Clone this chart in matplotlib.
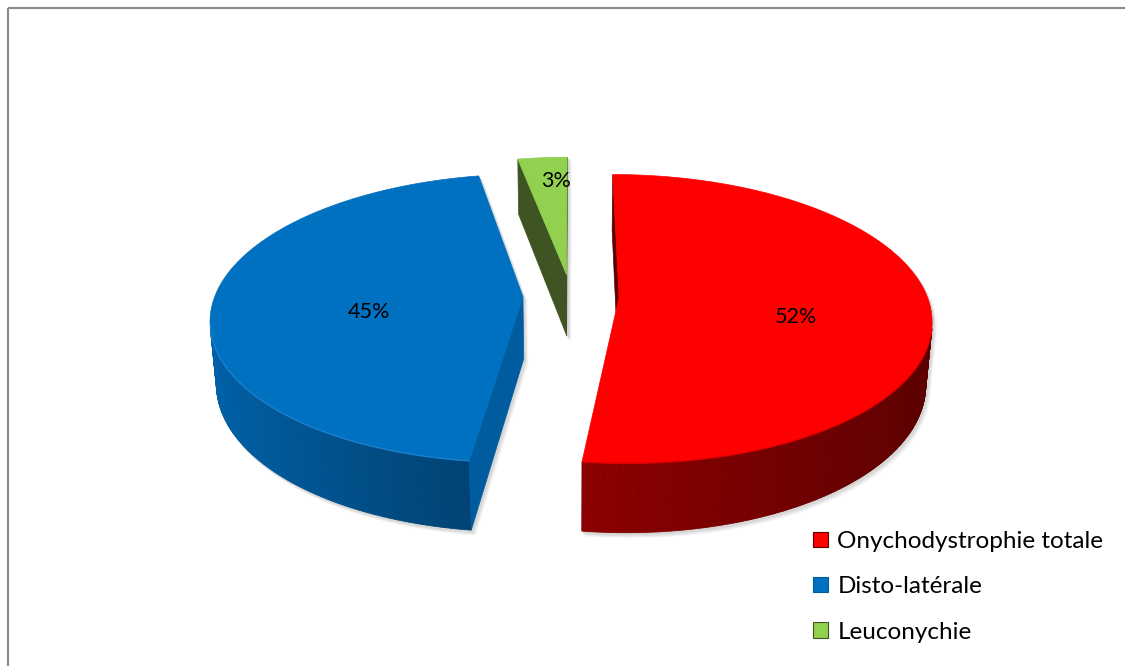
import numpy as np
import matplotlib
matplotlib.use("Agg")
import matplotlib.pyplot as plt
from matplotlib.collections import PolyCollection
from matplotlib.patches import Polygon, Rectangle, Patch

# data
labels = ["Onychodystrophie totale", "Disto-latérale", "Leuconychie"]
values = [52, 45, 3]

# colours: top face, outer wall (light/dark end of ramp), radial side face
top_colors = ["#FF0000", "#0070C0", "#92D050"]
wall_light = ["#B30000", "#0062AA", "#5E7F3A"]
wall_dark = ["#590000", "#001A2D", "#2E4419"]
side_colors = ["#5A0000", "#005C9F", "#3E5523"]
rim_colors = ["#D40000", "#2A8AD8", "#A8DC70"]
# label placement on the top face (radius, shift toward viewer, sideways)
label_r = [0.56, 0.49, 0.80]
label_dv = [-0.10, -0.09, -0.02]
label_du = [0.0, 0.0, 0.035]

## 3d pie geometry (pixels)
W, H = 1125, 666
x0, y0 = 571, 296        # screen position of pie centre
R = 308.0                # px per radius at centre depth
tilt = np.radians(27.2)
D = 5.96                 # camera distance (radius units)
h = 0.23                 # thickness
explode = 0.156
sa, ca = np.sin(tilt), np.cos(tilt)
F = R * D
cam = np.array([0.0, -D * ca, D * sa])


def proj(u, v, z):
    d = D + v * ca - z * sa
    return x0 + F * u / d, y0 - F * (v * sa + z * ca) / d


def hex2rgb(c):
    return np.array([int(c[i:i + 2], 16) for i in (1, 3, 5)]) / 255.0


plt.rcParams["font.family"] = ["Lato", "DejaVu Sans"]
fig = plt.figure(figsize=(W / 100, H / 100), dpi=100)
ax = fig.add_axes([0, 0, 1, 1])
ax.set_xlim(0, W)
ax.set_ylim(H, 0)
ax.axis("off")

fracs = np.array(values, dtype=float) / sum(values)
ends = np.cumsum(fracs) * 360
starts = ends - fracs * 360

slices = []
for i in range(len(values)):
    a, b = starts[i], ends[i]
    m = np.radians((a + b) / 2)
    ou, ov = explode * np.sin(m), explode * np.cos(m)
    n = max(int((b - a) * 2), 8)
    th = np.radians(np.linspace(a, b, n))
    tx, ty = proj(ou + np.sin(th), ov + np.cos(th), 0 * th)
    bx, by = proj(ou + np.sin(th), ov + np.cos(th), 0 * th - h)

    # outer wall, only the segments facing the camera
    quads, cols, rim = [], [], []
    lt, dk = hex2rgb(wall_light[i]), hex2rgb(wall_dark[i])
    for k in range(n - 1):
        t = (th[k] + th[k + 1]) / 2
        nrm = np.array([np.sin(t), np.cos(t), 0])
        p = np.array([ou + np.sin(t), ov + np.cos(t), -h / 2])
        if np.dot(cam - p, nrm) <= 0:
            continue
        quads.append([(tx[k], ty[k]), (tx[k + 1], ty[k + 1]),
                      (bx[k + 1], by[k + 1]), (bx[k], by[k])])
        rim.append([(tx[k], ty[k]), (tx[k + 1], ty[k + 1])])
        w = (1 - np.sin(t)) / 2
        cols.append(dk + (lt - dk) * w)

    # radial faces
    faces = []
    cen = np.array([ou, ov, 0])
    for ang, sgn in ((a, -1), (b, 1)):
        r = np.radians(ang)
        nrm = sgn * np.array([np.cos(r), -np.sin(r), 0])
        if np.dot(cam - cen, nrm) <= 0:
            continue
        pts = [proj(ou, ov, 0), proj(ou + np.sin(r), ov + np.cos(r), 0),
               proj(ou + np.sin(r), ov + np.cos(r), -h), proj(ou, ov, -h)]
        faces.append(pts)

    cx, cy = proj(ou, ov, 0)
    top = [(cx, cy)] + list(zip(tx, ty))
    lx, ly = proj(ou + label_r[i] * np.sin(m) + label_du[i],
                  ov + label_r[i] * np.cos(m) + label_dv[i], 0)
    depth = D + ov * ca
    slices.append(dict(i=i, quads=quads, cols=cols, rim=rim, faces=faces, top=top,
                       lab=(lx, ly), depth=depth, m=m))

order = sorted(slices, key=lambda s: -s["depth"])

# soft shadow to the lower right
for off, col in ((5.0, "#f5f5f5"), (4.0, "#ebebeb"), (3.0, "#e0e0e0"), (2.0, "#d6d6d6")):
    for s in order:
        polys = s["quads"] + s["faces"] + [s["top"]]
        for pg in polys:
            pg = [(x + off * 0.8, y + off) for x, y in pg]
            ax.add_patch(Polygon(pg, closed=True, facecolor=col, edgecolor=col, lw=0.5))

for s in order:
    i = s["i"]
    if s["quads"]:
        pc = PolyCollection(s["quads"], facecolors=s["cols"], edgecolors=s["cols"], linewidths=0.6)
        ax.add_collection(pc)
    for pg in s["faces"]:
        ax.add_patch(Polygon(pg, closed=True, facecolor=side_colors[i],
                             edgecolor=side_colors[i], lw=0.5))
    ax.add_patch(Polygon(s["top"], closed=True, facecolor=top_colors[i],
                         edgecolor=top_colors[i], lw=0.5))
    for seg in s["rim"]:
        ax.plot([seg[0][0], seg[1][0]], [seg[0][1], seg[1][1]], color=rim_colors[i],
                lw=1.0, alpha=0.7, solid_capstyle="butt")

for s in slices:
    i = s["i"]
    ax.text(s["lab"][0], s["lab"][1], "%d%%" % values[i], ha="center", va="center",
            fontsize=15.5, color="black")

# chart border (right and bottom edges fall outside the picture)
ax.add_patch(Rectangle((7.5, 7.5), 1300, 800, fill=False, edgecolor="#8a8a8a",
                       lw=1.5, clip_on=False))

handles = [Patch(facecolor=top_colors[i], edgecolor=side_colors[i], lw=0.8)
           for i in range(len(values))]
fig.legend(handles, labels, loc="upper left", bbox_to_anchor=(813 / W, 1 - 531 / H),
           frameon=False, fontsize=17.5, handlelength=0.6, handleheight=0.6,
           handletextpad=0.4, labelspacing=1.0, borderpad=0, borderaxespad=0)

fig.savefig("out.png", dpi=100)
